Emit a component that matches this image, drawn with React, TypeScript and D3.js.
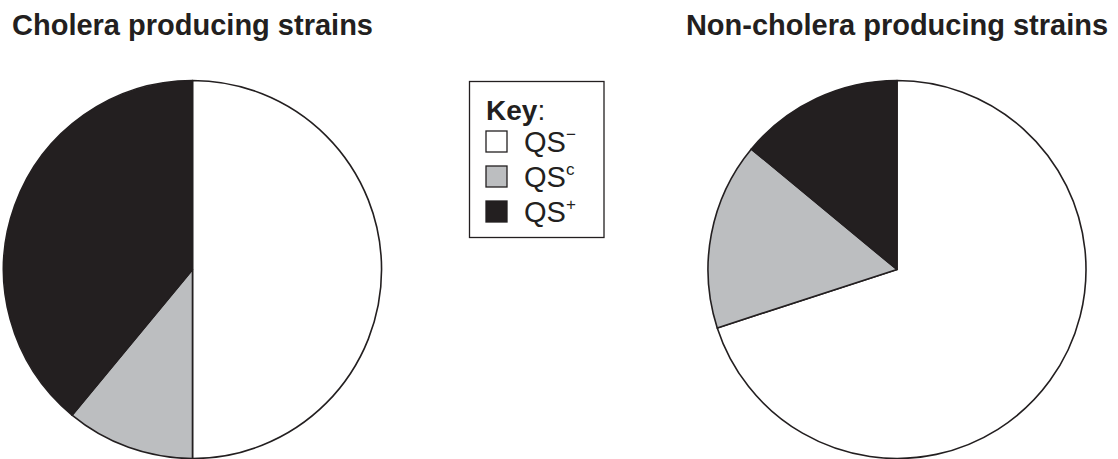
import * as d3 from 'd3';

const WIDTH = 1118;
const HEIGHT = 459;

// slice order from 12 o'clock, clockwise
const categories = ['QS−', 'QSc', 'QS+'];
const choleraValues = [50, 11, 39];
const nonCholeraValues = [70, 16, 14];
const pieTitles = ['Cholera producing strains', 'Non-cholera producing strains'];

const FILLS: Record<string, string> = {
  'QS−': '#ffffff',
  'QSc': '#bcbec0',
  'QS+': '#231f20',
};
const INK = '#231f20';
const FONT = '"Liberation Sans", Arial, Helvetica, sans-serif';

function Pie({ cx, cy, r, values, title }: { cx: number; cy: number; r: number; values: number[]; title: string }) {
  const pie = d3.pie<number>().sort(null).value((d) => d)(values);
  const arc = d3.arc<d3.PieArcDatum<number>>().innerRadius(0).outerRadius(r);
  return (
    <g transform={`translate(${cx},${cy})`}>
      <text y={35 - cy} fontSize={29} fontWeight={700} fill={INK} textAnchor="middle">{title}</text>
      {pie.map((s, i) => (
        <path
          key={i}
          d={arc(s) ?? ''}
          fill={FILLS[categories[i]]}
          stroke={INK}
          strokeWidth={1.6}
          strokeLinejoin="round"
        />
      ))}
    </g>
  );
}

export default function App() {
  const legendItems = [
    { key: 'QS−', base: 'QS', sup: '−' },
    { key: 'QSc', base: 'QS', sup: 'c' },
    { key: 'QS+', base: 'QS', sup: '+' },
  ];
  const rowY = d3.scaleLinear().domain([0, 2]).range([141.5, 211.5]);

  return (
    <svg
      width={WIDTH}
      height={HEIGHT}
      style={{ position: 'absolute', left: 0, top: 0, background: '#fff' }}
      fontFamily={FONT}
    >
      <Pie cx={192.5} cy={269.5} r={189} values={choleraValues} title={pieTitles[0]} />
      <Pie cx={897} cy={269.5} r={189} values={nonCholeraValues} title={pieTitles[1]} />

      <rect x={469.5} y={81.5} width={134.5} height={156} fill="#fff" stroke={INK} strokeWidth={1.3} />
      <text x={486} y={120} fontSize={28} fill={INK}>
        <tspan fontWeight={700}>Key</tspan>:
      </text>
      {legendItems.map((it, i) => (
        <g key={it.key}>
          <rect
            x={486}
            y={rowY(i) - 10.5}
            width={21}
            height={21}
            fill={FILLS[it.key]}
            stroke={INK}
            strokeWidth={1.3}
          />
          <text x={524} y={rowY(i) + 10.5} fontSize={29} fill={INK}>
            {it.base}
            <tspan dy={-12} fontSize={17}>{it.sup}</tspan>
          </text>
        </g>
      ))}
    </svg>
  );
}
